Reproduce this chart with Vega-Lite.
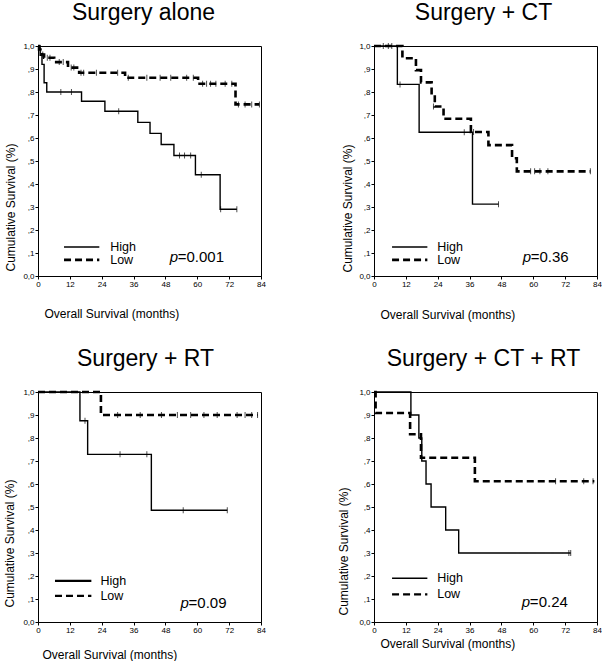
{
  "$schema": "https://vega.github.io/schema/vega-lite/v6.json",
  "autosize": {"type": "pad"},
  "padding": {"left": 2, "top": 1, "right": 0, "bottom": 0},
  "background": "white",
  "columns": 2,
  "spacing": {"row": 116, "column": 113},
  "bounds": "flush",
  "datasets": {
    "one": [{}],
    "curves": [
      {"p":"A","g":"High","t":0,"s":1},{"p":"A","g":"High","t":0.8,"s":0.96},{"p":"A","g":"High","t":1.5,"s":0.92},{"p":"A","g":"High","t":2.3,"s":0.84},{"p":"A","g":"High","t":3.3,"s":0.8},{"p":"A","g":"High","t":16.4,"s":0.76},{"p":"A","g":"High","t":25.2,"s":0.716},{"p":"A","g":"High","t":37.6,"s":0.668},{"p":"A","g":"High","t":42.2,"s":0.62},{"p":"A","g":"High","t":46.4,"s":0.572},{"p":"A","g":"High","t":51.2,"s":0.524},{"p":"A","g":"High","t":59.3,"s":0.44},{"p":"A","g":"High","t":68.6,"s":0.29},{"p":"A","g":"High","t":74.9,"s":0.29},
      {"p":"A","g":"Low","t":0,"s":1},{"p":"A","g":"Low","t":0.4,"s":0.985},{"p":"A","g":"Low","t":0.9,"s":0.975},{"p":"A","g":"Low","t":1.5,"s":0.963},{"p":"A","g":"Low","t":2.3,"s":0.949},{"p":"A","g":"Low","t":6.1,"s":0.93},{"p":"A","g":"Low","t":11.3,"s":0.906},{"p":"A","g":"Low","t":15.5,"s":0.884},{"p":"A","g":"Low","t":32.8,"s":0.862},{"p":"A","g":"Low","t":60.3,"s":0.836},{"p":"A","g":"Low","t":74.4,"s":0.746},{"p":"A","g":"Low","t":83.4,"s":0.746},
      {"p":"B","g":"High","t":0,"s":1},{"p":"B","g":"High","t":8.8,"s":0.833},{"p":"B","g":"High","t":17,"s":0.625},{"p":"B","g":"High","t":37.1,"s":0.3125},{"p":"B","g":"High","t":46.9,"s":0.3125},
      {"p":"B","g":"Low","t":0,"s":1},{"p":"B","g":"Low","t":10.7,"s":0.947},{"p":"B","g":"Low","t":15.8,"s":0.895},{"p":"B","g":"Low","t":17.7,"s":0.842},{"p":"B","g":"Low","t":21.7,"s":0.789},{"p":"B","g":"Low","t":22.9,"s":0.737},{"p":"B","g":"Low","t":26.2,"s":0.684},{"p":"B","g":"Low","t":36.5,"s":0.626},{"p":"B","g":"Low","t":43.1,"s":0.569},{"p":"B","g":"Low","t":52,"s":0.512},{"p":"B","g":"Low","t":53.8,"s":0.455},{"p":"B","g":"Low","t":81.5,"s":0.455},
      {"p":"C","g":"High","t":0,"s":1},{"p":"C","g":"High","t":15.8,"s":0.875},{"p":"C","g":"High","t":18.7,"s":0.729},{"p":"C","g":"High","t":42.7,"s":0.486},{"p":"C","g":"High","t":71.3,"s":0.486},
      {"p":"C","g":"Low","t":0,"s":1},{"p":"C","g":"Low","t":23.7,"s":0.9},{"p":"C","g":"Low","t":82.7,"s":0.9},
      {"p":"D","g":"High","t":0,"s":1},{"p":"D","g":"High","t":13.9,"s":0.9},{"p":"D","g":"High","t":16.9,"s":0.8},{"p":"D","g":"High","t":18,"s":0.7},{"p":"D","g":"High","t":19.6,"s":0.6},{"p":"D","g":"High","t":21.5,"s":0.5},{"p":"D","g":"High","t":27,"s":0.4},{"p":"D","g":"High","t":31.9,"s":0.3},{"p":"D","g":"High","t":74.1,"s":0.3},
      {"p":"D","g":"Low","t":0,"s":1},{"p":"D","g":"Low","t":0.6,"s":0.909},{"p":"D","g":"Low","t":13.6,"s":0.816},{"p":"D","g":"Low","t":17.7,"s":0.714},{"p":"D","g":"Low","t":38,"s":0.612},{"p":"D","g":"Low","t":83,"s":0.612}
    ],
    "censors": [
      {"p":"A","g":"High","t":8.6,"s":0.8},{"p":"A","g":"High","t":12.6,"s":0.8},{"p":"A","g":"High","t":30.4,"s":0.716},{"p":"A","g":"High","t":53.3,"s":0.524},{"p":"A","g":"High","t":55.2,"s":0.524},{"p":"A","g":"High","t":57.5,"s":0.524},{"p":"A","g":"High","t":61.5,"s":0.44},{"p":"A","g":"High","t":68.8,"s":0.29},{"p":"A","g":"High","t":74.9,"s":0.29},
      {"p":"A","g":"Low","t":1,"s":0.975},{"p":"A","g":"Low","t":1.8,"s":0.963},{"p":"A","g":"Low","t":3.5,"s":0.949},{"p":"A","g":"Low","t":4.5,"s":0.949},{"p":"A","g":"Low","t":8,"s":0.93},{"p":"A","g":"Low","t":9.5,"s":0.93},{"p":"A","g":"Low","t":12.5,"s":0.906},{"p":"A","g":"Low","t":13.5,"s":0.906},{"p":"A","g":"Low","t":16.2,"s":0.884},{"p":"A","g":"Low","t":17.2,"s":0.884},{"p":"A","g":"Low","t":22,"s":0.884},{"p":"A","g":"Low","t":30,"s":0.884},{"p":"A","g":"Low","t":34,"s":0.862},{"p":"A","g":"Low","t":41,"s":0.862},{"p":"A","g":"Low","t":46,"s":0.862},{"p":"A","g":"Low","t":50,"s":0.862},{"p":"A","g":"Low","t":56,"s":0.862},{"p":"A","g":"Low","t":58.5,"s":0.862},{"p":"A","g":"Low","t":62,"s":0.836},{"p":"A","g":"Low","t":63.5,"s":0.836},{"p":"A","g":"Low","t":65,"s":0.836},{"p":"A","g":"Low","t":67,"s":0.836},{"p":"A","g":"Low","t":70.5,"s":0.836},{"p":"A","g":"Low","t":73,"s":0.836},{"p":"A","g":"Low","t":75.5,"s":0.746},{"p":"A","g":"Low","t":78,"s":0.746},{"p":"A","g":"Low","t":80.5,"s":0.746},{"p":"A","g":"Low","t":83.4,"s":0.746},
      {"p":"B","g":"High","t":6.7,"s":1},{"p":"B","g":"High","t":9.8,"s":0.833},{"p":"B","g":"High","t":34,"s":0.625},{"p":"B","g":"High","t":46.9,"s":0.3125},
      {"p":"B","g":"Low","t":3.5,"s":1},{"p":"B","g":"Low","t":5.4,"s":1},{"p":"B","g":"Low","t":22.4,"s":0.737},{"p":"B","g":"Low","t":37.5,"s":0.626},{"p":"B","g":"Low","t":59,"s":0.455},{"p":"B","g":"Low","t":60.5,"s":0.455},{"p":"B","g":"Low","t":62.5,"s":0.455},{"p":"B","g":"Low","t":65.5,"s":0.455},{"p":"B","g":"Low","t":81.5,"s":0.455},
      {"p":"C","g":"High","t":17.7,"s":0.875},{"p":"C","g":"High","t":30.9,"s":0.729},{"p":"C","g":"High","t":41,"s":0.729},{"p":"C","g":"High","t":54.7,"s":0.486},{"p":"C","g":"High","t":71.3,"s":0.486},
      {"p":"C","g":"Low","t":30,"s":0.9},{"p":"C","g":"Low","t":38.5,"s":0.9},{"p":"C","g":"Low","t":46.5,"s":0.9},{"p":"C","g":"Low","t":52.5,"s":0.9},{"p":"C","g":"Low","t":57.5,"s":0.9},{"p":"C","g":"Low","t":62.5,"s":0.9},{"p":"C","g":"Low","t":67.5,"s":0.9},{"p":"C","g":"Low","t":75,"s":0.9},{"p":"C","g":"Low","t":78,"s":0.9},{"p":"C","g":"Low","t":80.5,"s":0.9},{"p":"C","g":"Low","t":82.7,"s":0.9},
      {"p":"D","g":"High","t":73.4,"s":0.3},{"p":"D","g":"High","t":74.1,"s":0.3},
      {"p":"D","g":"Low","t":68.4,"s":0.612},{"p":"D","g":"Low","t":79,"s":0.612},{"p":"D","g":"Low","t":82.5,"s":0.612}
    ]
  },
  "concat": [
    {
      "width": 223, "height": 230,
      "title": {"text": "Surgery alone", "dx": -6},
      "layer": [
        {"data": {"name": "curves"}, "transform": [{"filter": "datum.p == 'A'"}],
         "mark": {"type": "line", "interpolate": "step-after", "color": "black"},
         "encoding": {
           "x": {"field": "t", "type": "quantitative", "scale": {"domain": [0, 84], "nice": false},
                 "axis": {"values": [0,12,24,36,48,60,72,84], "tickCount": 20, "labelOverlap": false, "labelFlush": false, "title": "Overall Survival (months)", "titleX": 6, "titleY": 41, "titleAlign": "left", "titleBaseline": "alphabetic"}},
           "y": {"field": "s", "type": "quantitative", "scale": {"domain": [0, 1], "nice": false},
                 "axis": {"values": [0,0.1,0.2,0.3,0.4,0.5,0.6,0.7,0.8,0.9,1], "tickCount": 20, "labelOverlap": false, "labelFlush": false, "labelExpr": "datum.value == 0 ? '0,0' : replace(replace(format(datum.value, '.1f'), '0.', ','), '.', ',')", "title": "Cumulative Survival (%)", "titleX": -28, "titleY": 225, "titleAlign": "left", "titleBaseline": "middle"}},
           "detail": {"field": "g"},
           "strokeDash": {"field": "g", "type": "nominal", "scale": {"domain": ["High", "Low"], "range": [[1, 0], [7, 4]]}, "legend": null},
           "strokeWidth": {"field": "g", "type": "ordinal", "scale": {"domain": ["High", "Low"], "range": [1.4, 2.6]}, "legend": null}
         }},
        {"data": {"name": "censors"}, "transform": [{"filter": "datum.p == 'A'"}],
         "mark": {"type": "tick", "orient": "vertical", "size": 6, "thickness": 1, "color": "black"},
         "encoding": {"x": {"field": "t", "type": "quantitative"}, "y": {"field": "s", "type": "quantitative"}}},
        {"data": {"name": "one"}, "mark": {"type": "rule", "color": "black", "strokeWidth": 1.4},
         "encoding": {"x": {"datum": 9.8, "type": "quantitative"}, "x2": {"datum": 23.1}, "y": {"datum": 0.126, "type": "quantitative"}}},
        {"data": {"name": "one"}, "mark": {"type": "rule", "color": "black", "strokeWidth": 2.6, "strokeDash": [7, 4]},
         "encoding": {"x": {"datum": 9.8, "type": "quantitative"}, "x2": {"datum": 23.1}, "y": {"datum": 0.07, "type": "quantitative"}}},
        {"data": {"name": "one"}, "mark": {"type": "text", "text": "High", "align": "left", "baseline": "middle", "fontSize": 12.5},
         "encoding": {"x": {"datum": 27.2, "type": "quantitative"}, "y": {"datum": 0.126, "type": "quantitative"}}},
        {"data": {"name": "one"}, "mark": {"type": "text", "text": "Low", "align": "left", "baseline": "middle", "fontSize": 12.5},
         "encoding": {"x": {"datum": 27.2, "type": "quantitative"}, "y": {"datum": 0.07, "type": "quantitative"}}},
        {"data": {"name": "one"}, "mark": {"type": "text", "text": "p", "align": "left", "baseline": "middle", "fontSize": 15, "fontStyle": "italic"},
         "encoding": {"x": {"datum": 49.6, "type": "quantitative"}, "y": {"datum": 0.083, "type": "quantitative"}}},
        {"data": {"name": "one"}, "mark": {"type": "text", "text": "=0.001", "align": "left", "baseline": "middle", "fontSize": 15, "dx": 8},
         "encoding": {"x": {"datum": 49.6, "type": "quantitative"}, "y": {"datum": 0.083, "type": "quantitative"}}}
      ]
    },
    {
      "width": 223, "height": 230,
      "title": {"text": "Surgery + CT", "dx": -2},
      "layer": [
        {"data": {"name": "curves"}, "transform": [{"filter": "datum.p == 'B'"}],
         "mark": {"type": "line", "interpolate": "step-after", "color": "black"},
         "encoding": {
           "x": {"field": "t", "type": "quantitative", "scale": {"domain": [0, 84], "nice": false},
                 "axis": {"values": [0,12,24,36,48,60,72,84], "tickCount": 20, "labelOverlap": false, "labelFlush": false, "title": "Overall Survival (months)", "titleX": 6, "titleY": 42, "titleAlign": "left", "titleBaseline": "alphabetic"}},
           "y": {"field": "s", "type": "quantitative", "scale": {"domain": [0, 1], "nice": false},
                 "axis": {"values": [0,0.1,0.2,0.3,0.4,0.5,0.6,0.7,0.8,0.9,1], "tickCount": 20, "labelOverlap": false, "labelFlush": false, "labelExpr": "datum.value == 0 ? '0,0' : replace(replace(format(datum.value, '.1f'), '0.', ','), '.', ',')", "title": "Cumulative Survival (%)", "titleX": -27, "titleY": 226, "titleAlign": "left", "titleBaseline": "middle"}},
           "detail": {"field": "g"},
           "strokeDash": {"field": "g", "type": "nominal", "scale": {"domain": ["High", "Low"], "range": [[1, 0], [7, 4]]}, "legend": null},
           "strokeWidth": {"field": "g", "type": "ordinal", "scale": {"domain": ["High", "Low"], "range": [1.4, 2.6]}, "legend": null}
         }},
        {"data": {"name": "censors"}, "transform": [{"filter": "datum.p == 'B'"}],
         "mark": {"type": "tick", "orient": "vertical", "size": 6, "thickness": 1, "color": "black"},
         "encoding": {"x": {"field": "t", "type": "quantitative"}, "y": {"field": "s", "type": "quantitative"}}},
        {"data": {"name": "one"}, "mark": {"type": "rule", "color": "black", "strokeWidth": 1.4},
         "encoding": {"x": {"datum": 6.8, "type": "quantitative"}, "x2": {"datum": 20.1}, "y": {"datum": 0.126, "type": "quantitative"}}},
        {"data": {"name": "one"}, "mark": {"type": "rule", "color": "black", "strokeWidth": 2.6, "strokeDash": [7, 4]},
         "encoding": {"x": {"datum": 6.8, "type": "quantitative"}, "x2": {"datum": 20.1}, "y": {"datum": 0.07, "type": "quantitative"}}},
        {"data": {"name": "one"}, "mark": {"type": "text", "text": "High", "align": "left", "baseline": "middle", "fontSize": 12.5},
         "encoding": {"x": {"datum": 23.8, "type": "quantitative"}, "y": {"datum": 0.126, "type": "quantitative"}}},
        {"data": {"name": "one"}, "mark": {"type": "text", "text": "Low", "align": "left", "baseline": "middle", "fontSize": 12.5},
         "encoding": {"x": {"datum": 23.8, "type": "quantitative"}, "y": {"datum": 0.07, "type": "quantitative"}}},
        {"data": {"name": "one"}, "mark": {"type": "text", "text": "p", "align": "left", "baseline": "middle", "fontSize": 15, "fontStyle": "italic"},
         "encoding": {"x": {"datum": 56, "type": "quantitative"}, "y": {"datum": 0.083, "type": "quantitative"}}},
        {"data": {"name": "one"}, "mark": {"type": "text", "text": "=0.36", "align": "left", "baseline": "middle", "fontSize": 15, "dx": 8},
         "encoding": {"x": {"datum": 56, "type": "quantitative"}, "y": {"datum": 0.083, "type": "quantitative"}}}
      ]
    },
    {
      "width": 223, "height": 230,
      "title": {"text": "Surgery + RT", "dx": -4},
      "layer": [
        {"data": {"name": "curves"}, "transform": [{"filter": "datum.p == 'C'"}],
         "mark": {"type": "line", "interpolate": "step-after", "color": "black"},
         "encoding": {
           "x": {"field": "t", "type": "quantitative", "scale": {"domain": [0, 84], "nice": false},
                 "axis": {"values": [0,12,24,36,48,60,72,84], "tickCount": 20, "labelOverlap": false, "labelFlush": false, "title": "Overall Survival (months)", "titleX": 4, "titleY": 36, "titleAlign": "left", "titleBaseline": "alphabetic"}},
           "y": {"field": "s", "type": "quantitative", "scale": {"domain": [0, 1], "nice": false},
                 "axis": {"values": [0,0.1,0.2,0.3,0.4,0.5,0.6,0.7,0.8,0.9,1], "tickCount": 20, "labelOverlap": false, "labelFlush": false, "labelExpr": "datum.value == 0 ? '0,0' : replace(replace(format(datum.value, '.1f'), '0.', ','), '.', ',')", "title": "Cumulative Survival (%)", "titleX": -29, "titleY": 215, "titleAlign": "left", "titleBaseline": "middle"}},
           "detail": {"field": "g"},
           "strokeDash": {"field": "g", "type": "nominal", "scale": {"domain": ["High", "Low"], "range": [[1, 0], [7, 4]]}, "legend": null},
           "strokeWidth": {"field": "g", "type": "ordinal", "scale": {"domain": ["High", "Low"], "range": [1.4, 2.6]}, "legend": null}
         }},
        {"data": {"name": "censors"}, "transform": [{"filter": "datum.p == 'C'"}],
         "mark": {"type": "tick", "orient": "vertical", "size": 6, "thickness": 1, "color": "black"},
         "encoding": {"x": {"field": "t", "type": "quantitative"}, "y": {"field": "s", "type": "quantitative"}}},
        {"data": {"name": "one"}, "mark": {"type": "rule", "color": "black", "strokeWidth": 2.2},
         "encoding": {"x": {"datum": 6.4, "type": "quantitative"}, "x2": {"datum": 20.1}, "y": {"datum": 0.179, "type": "quantitative"}}},
        {"data": {"name": "one"}, "mark": {"type": "rule", "color": "black", "strokeWidth": 2.2, "strokeDash": [7, 4]},
         "encoding": {"x": {"datum": 6.4, "type": "quantitative"}, "x2": {"datum": 20.1}, "y": {"datum": 0.114, "type": "quantitative"}}},
        {"data": {"name": "one"}, "mark": {"type": "text", "text": "High", "align": "left", "baseline": "middle", "fontSize": 12.5},
         "encoding": {"x": {"datum": 23.5, "type": "quantitative"}, "y": {"datum": 0.179, "type": "quantitative"}}},
        {"data": {"name": "one"}, "mark": {"type": "text", "text": "Low", "align": "left", "baseline": "middle", "fontSize": 12.5},
         "encoding": {"x": {"datum": 23.5, "type": "quantitative"}, "y": {"datum": 0.114, "type": "quantitative"}}},
        {"data": {"name": "one"}, "mark": {"type": "text", "text": "p", "align": "left", "baseline": "middle", "fontSize": 15, "fontStyle": "italic"},
         "encoding": {"x": {"datum": 53.7, "type": "quantitative"}, "y": {"datum": 0.083, "type": "quantitative"}}},
        {"data": {"name": "one"}, "mark": {"type": "text", "text": "=0.09", "align": "left", "baseline": "middle", "fontSize": 15, "dx": 8},
         "encoding": {"x": {"datum": 53.7, "type": "quantitative"}, "y": {"datum": 0.083, "type": "quantitative"}}}
      ]
    },
    {
      "width": 223, "height": 230,
      "title": {"text": "Surgery + CT + RT", "dx": -2},
      "layer": [
        {"data": {"name": "curves"}, "transform": [{"filter": "datum.p == 'D'"}],
         "mark": {"type": "line", "interpolate": "step-after", "color": "black"},
         "encoding": {
           "x": {"field": "t", "type": "quantitative", "scale": {"domain": [0, 84], "nice": false},
                 "axis": {"values": [0,12,24,36,48,60,72,84], "tickCount": 20, "labelOverlap": false, "labelFlush": false, "title": "Overall Survival (months)", "titleX": 6, "titleY": 25, "titleAlign": "left", "titleBaseline": "alphabetic"}},
           "y": {"field": "s", "type": "quantitative", "scale": {"domain": [0, 1], "nice": false},
                 "axis": {"values": [0,0.1,0.2,0.3,0.4,0.5,0.6,0.7,0.8,0.9,1], "tickCount": 20, "labelOverlap": false, "labelFlush": false, "labelExpr": "datum.value == 0 ? '0,0' : replace(replace(format(datum.value, '.1f'), '0.', ','), '.', ',')", "title": "Cumulative Survival (%)", "titleX": -31, "titleY": 223, "titleAlign": "left", "titleBaseline": "middle"}},
           "detail": {"field": "g"},
           "strokeDash": {"field": "g", "type": "nominal", "scale": {"domain": ["High", "Low"], "range": [[1, 0], [7, 4]]}, "legend": null},
           "strokeWidth": {"field": "g", "type": "ordinal", "scale": {"domain": ["High", "Low"], "range": [1.4, 2.6]}, "legend": null}
         }},
        {"data": {"name": "censors"}, "transform": [{"filter": "datum.p == 'D'"}],
         "mark": {"type": "tick", "orient": "vertical", "size": 6, "thickness": 1, "color": "black"},
         "encoding": {"x": {"field": "t", "type": "quantitative"}, "y": {"field": "s", "type": "quantitative"}}},
        {"data": {"name": "one"}, "mark": {"type": "rule", "color": "black", "strokeWidth": 1.4},
         "encoding": {"x": {"datum": 6.8, "type": "quantitative"}, "x2": {"datum": 20.1}, "y": {"datum": 0.19, "type": "quantitative"}}},
        {"data": {"name": "one"}, "mark": {"type": "rule", "color": "black", "strokeWidth": 2.2, "strokeDash": [7, 4]},
         "encoding": {"x": {"datum": 6.8, "type": "quantitative"}, "x2": {"datum": 20.1}, "y": {"datum": 0.12, "type": "quantitative"}}},
        {"data": {"name": "one"}, "mark": {"type": "text", "text": "High", "align": "left", "baseline": "middle", "fontSize": 12.5},
         "encoding": {"x": {"datum": 23.8, "type": "quantitative"}, "y": {"datum": 0.19, "type": "quantitative"}}},
        {"data": {"name": "one"}, "mark": {"type": "text", "text": "Low", "align": "left", "baseline": "middle", "fontSize": 12.5},
         "encoding": {"x": {"datum": 23.8, "type": "quantitative"}, "y": {"datum": 0.12, "type": "quantitative"}}},
        {"data": {"name": "one"}, "mark": {"type": "text", "text": "p", "align": "left", "baseline": "middle", "fontSize": 15, "fontStyle": "italic"},
         "encoding": {"x": {"datum": 55.7, "type": "quantitative"}, "y": {"datum": 0.087, "type": "quantitative"}}},
        {"data": {"name": "one"}, "mark": {"type": "text", "text": "=0.24", "align": "left", "baseline": "middle", "fontSize": 15, "dx": 8},
         "encoding": {"x": {"datum": 55.7, "type": "quantitative"}, "y": {"datum": 0.087, "type": "quantitative"}}}
      ]
    }
  ],
  "config": {
    "font": "Liberation Sans",
    "view": {"stroke": "black", "strokeWidth": 1},
    "axis": {"grid": false, "domainColor": "black", "tickColor": "black", "labelColor": "black", "titleColor": "black", "labelFontSize": 8, "titleFontSize": 12, "titleFontWeight": "normal", "tickSize": 3, "labelPadding": 1},
    "text": {"color": "black", "font": "Liberation Sans"},
    "title": {"fontSize": 23, "fontWeight": "normal", "color": "black", "offset": 16, "anchor": "middle", "frame": "group", "font": "Liberation Sans"}
  }
}
